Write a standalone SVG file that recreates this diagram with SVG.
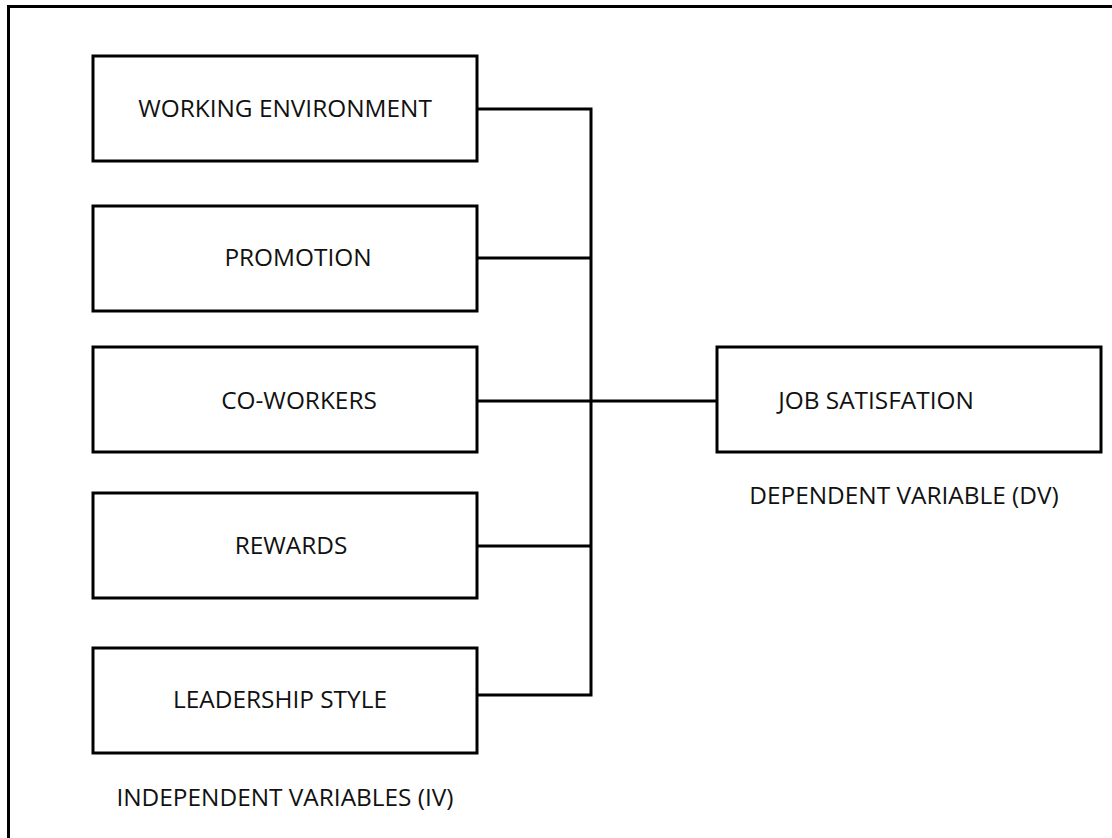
<svg xmlns="http://www.w3.org/2000/svg" width="1112" height="838" viewBox="0 0 1112 838">
<style>
.box{fill:#fff;stroke:#000;stroke-width:3}
.ln{fill:none;stroke:#000;stroke-width:3;stroke-linejoin:miter}
.t{font-family:"Open Sans","Liberation Sans",sans-serif;font-size:24.4px;fill:#111;text-anchor:middle}
</style>
<rect width="1112" height="838" fill="#fff"/>
<path class="ln" d="M8.5,838 V6.5 H1112" stroke-width="2.5"/>
<g id="connectors">
<path class="ln" d="M477,109 H591 V695 H477"/>
<path class="ln" d="M477,258 H591"/>
<path class="ln" d="M477,401 H717"/>
<path class="ln" d="M477,546 H591"/>
</g>
<g id="n1"><rect class="box" x="93" y="56" width="384" height="105"/><text class="t" x="285" y="117">WORKING ENVIRONMENT</text></g>
<g id="n2"><rect class="box" x="93" y="206" width="384" height="105"/><text class="t" x="298" y="266">PROMOTION</text></g>
<g id="n3"><rect class="box" x="93" y="347" width="384" height="105"/><text class="t" x="299" y="409">CO-WORKERS</text></g>
<g id="n4"><rect class="box" x="93" y="493" width="384" height="105"/><text class="t" x="291" y="554">REWARDS</text></g>
<g id="n5"><rect class="box" x="93" y="648" width="384" height="105"/><text class="t" x="280" y="708">LEADERSHIP STYLE</text></g>
<g id="n6"><rect class="box" x="717" y="347" width="384" height="105"/><text class="t" x="876" y="409">JOB SATISFATION</text></g>
<g id="labels">
<text class="t" x="904" y="504">DEPENDENT VARIABLE (DV)</text>
<text class="t" x="285" y="806">INDEPENDENT VARIABLES (IV)</text>
</g>
</svg>
